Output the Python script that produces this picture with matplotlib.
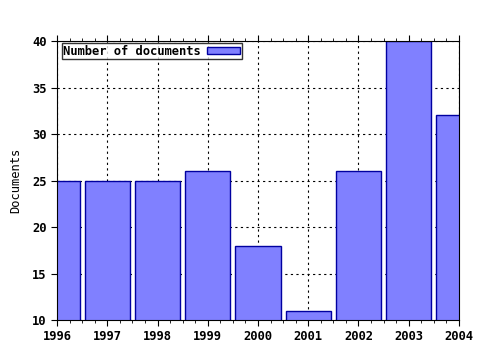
import matplotlib as mpl
import matplotlib.pyplot as plt
from matplotlib.ticker import MultipleLocator

mpl.use("Agg")

years = [1996, 1997, 1998, 1999, 2000, 2001, 2002, 2003, 2004]
documents = [25, 25, 25, 26, 18, 11, 26, 40, 32]
series_label = "Number of documents"

plt.rcParams["font.family"] = "DejaVu Sans Mono"
plt.rcParams["font.weight"] = "bold"
plt.rcParams["font.size"] = 8.7

fig = plt.figure(figsize=(4.8, 3.5), dpi=100)
ax = fig.add_axes([0.119, 0.0857, 0.837, 0.797])

ax.bar(years, documents, width=0.9, bottom=0, color="#8080ff",
       edgecolor="#0000a0", linewidth=1, label=series_label, zorder=2)

ax.set_xlim(1996, 2004)
ax.set_ylim(10, 40)
ax.set_xticks(years)
ax.set_xticklabels([str(y) for y in years])
ax.xaxis.set_minor_locator(MultipleLocator(0.25))
ax.yaxis.set_minor_locator(MultipleLocator(1))
ax.tick_params(axis="x", which="major", direction="out", length=4, top=True)
ax.tick_params(axis="x", which="minor", direction="out", length=2, top=True)
ax.tick_params(axis="y", which="major", direction="out", length=4)
ax.tick_params(axis="y", which="minor", length=0)
ax.grid(True, color="black", linestyle=(0, (2, 3)), linewidth=0.8, zorder=0)
ax.set_axisbelow(True)

ax.set_ylabel("Documents", labelpad=7)

leg = ax.legend(loc="upper left", frameon=True, fancybox=False,
                borderpad=0.1, handlelength=2.8, handleheight=0.55,
                borderaxespad=0.2, handletextpad=0.5, markerfirst=False,
                bbox_to_anchor=(0.005, 1.0))
leg.get_frame().set_edgecolor("black")
leg.get_frame().set_linewidth(1)

plt.savefig("out.png", dpi=100)
